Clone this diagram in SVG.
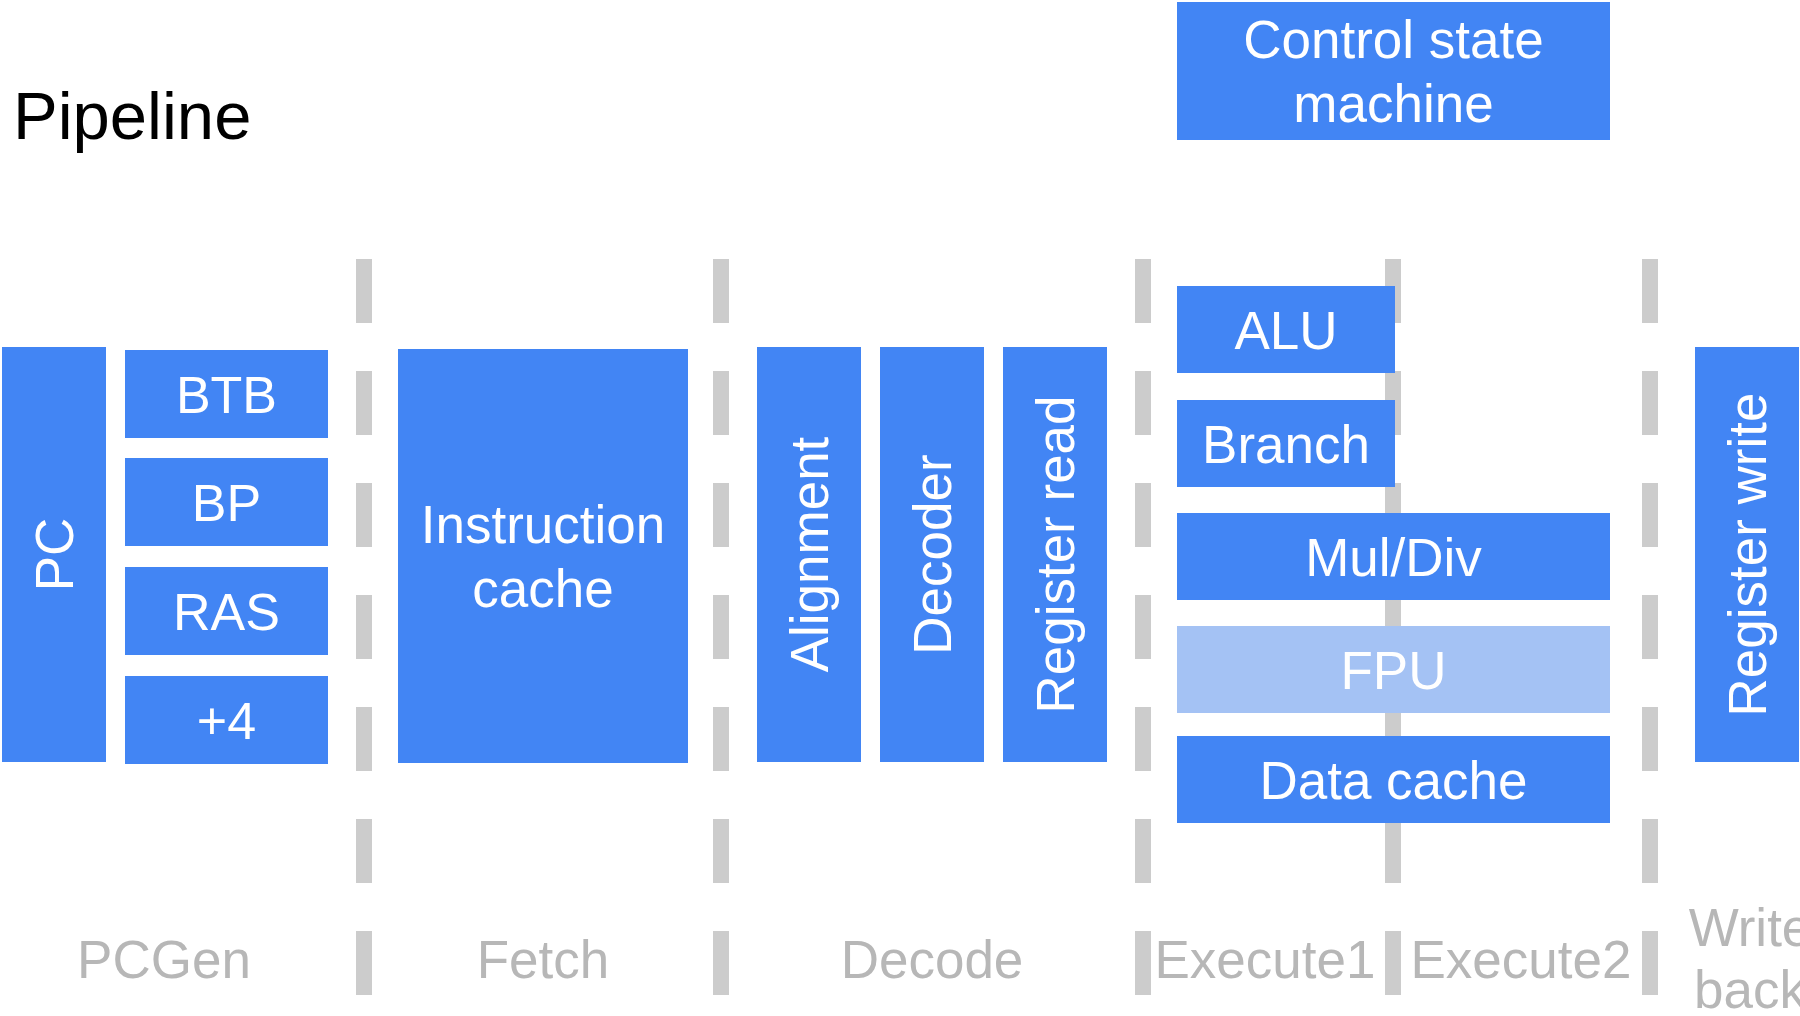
<svg xmlns="http://www.w3.org/2000/svg" width="1800" height="1016" viewBox="0 0 1800 1016">
  <style>
    text { font-family: "Liberation Sans", Arial, Helvetica, sans-serif; }
    .box { fill: #4285f4; }
    .box-light { fill: #a4c2f4; }
    .lbl { fill: #ffffff; font-size: 53px; text-anchor: middle; }
    .lbl-sm { fill: #ffffff; font-size: 52px; text-anchor: middle; }
    .stage { fill: #b7b7b7; font-size: 53px; text-anchor: middle; }
    .divider { stroke: #cccccc; stroke-width: 16; stroke-dasharray: 64 48; fill: none; }
  </style>

  <rect width="1800" height="1016" fill="#ffffff"/>

  <text x="13" y="139" font-size="67" fill="#000000">Pipeline</text>

  <!-- stage boundaries (drawn beneath the units) -->
  <g id="connectors">
    <line class="divider" x1="364" y1="259" x2="364" y2="995"/>
    <line class="divider" x1="721" y1="259" x2="721" y2="995"/>
    <line class="divider" x1="1143" y1="259" x2="1143" y2="995"/>
    <line class="divider" x1="1393" y1="259" x2="1393" y2="995"/>
    <line class="divider" x1="1650" y1="259" x2="1650" y2="995"/>
  </g>

  <!-- PCGen stage -->
  <g id="pc">
    <rect class="box" x="2" y="347" width="104" height="415"/>
    <text class="lbl" transform="translate(73,554.5) rotate(-90)" x="0" y="0">PC</text>
  </g>
  <g id="btb">
    <rect class="box" x="125" y="350" width="203" height="88"/>
    <text class="lbl-sm" x="226.5" y="412.5">BTB</text>
  </g>
  <g id="bp">
    <rect class="box" x="125" y="458" width="203" height="88"/>
    <text class="lbl-sm" x="226.5" y="520.5">BP</text>
  </g>
  <g id="ras">
    <rect class="box" x="125" y="567" width="203" height="88"/>
    <text class="lbl-sm" x="226.5" y="629.5">RAS</text>
  </g>
  <g id="plus4">
    <rect class="box" x="125" y="676" width="203" height="88"/>
    <text class="lbl-sm" x="226.5" y="738.5">+4</text>
  </g>

  <!-- Fetch stage -->
  <g id="icache">
    <rect class="box" x="398" y="349" width="290" height="414"/>
    <text class="lbl" x="543" y="543">Instruction</text>
    <text class="lbl" x="543" y="607">cache</text>
  </g>

  <!-- Decode stage -->
  <g id="alignment">
    <rect class="box" x="757" y="347" width="104" height="415"/>
    <text class="lbl" transform="translate(828,554.5) rotate(-90)" x="0" y="0">Alignment</text>
  </g>
  <g id="decoder">
    <rect class="box" x="880" y="347" width="104" height="415"/>
    <text class="lbl" transform="translate(951,554.5) rotate(-90)" x="0" y="0">Decoder</text>
  </g>
  <g id="regread">
    <rect class="box" x="1003" y="347" width="104" height="415"/>
    <text class="lbl" transform="translate(1074,554.5) rotate(-90)" x="0" y="0">Register read</text>
  </g>

  <!-- Execute stages -->
  <g id="control">
    <rect class="box" x="1177" y="2" width="433" height="138"/>
    <text class="lbl" x="1393.5" y="58">Control state</text>
    <text class="lbl" x="1393.5" y="122">machine</text>
  </g>
  <g id="alu">
    <rect class="box" x="1177" y="286" width="218" height="87"/>
    <text class="lbl" x="1286" y="348.5">ALU</text>
  </g>
  <g id="branch">
    <rect class="box" x="1177" y="400" width="218" height="87"/>
    <text class="lbl" x="1286" y="462.5">Branch</text>
  </g>
  <g id="muldiv">
    <rect class="box" x="1177" y="513" width="433" height="87"/>
    <text class="lbl" x="1393.5" y="575.5">Mul/Div</text>
  </g>
  <g id="fpu">
    <rect class="box-light" x="1177" y="626" width="433" height="87"/>
    <text class="lbl" x="1393.5" y="688.5">FPU</text>
  </g>
  <g id="dcache">
    <rect class="box" x="1177" y="736" width="433" height="87"/>
    <text class="lbl" x="1393.5" y="798.5">Data cache</text>
  </g>

  <!-- Writeback stage -->
  <g id="regwrite">
    <rect class="box" x="1695" y="347" width="104" height="415"/>
    <text class="lbl" transform="translate(1766,554.5) rotate(-90)" x="0" y="0">Register write</text>
  </g>

  <!-- stage names -->
  <g id="stage-labels">
    <text class="stage" x="164" y="978">PCGen</text>
    <text class="stage" x="543" y="978">Fetch</text>
    <text class="stage" x="932" y="978">Decode</text>
    <text class="stage" x="1265" y="978">Execute1</text>
    <text class="stage" x="1521" y="978">Execute2</text>
    <text class="stage" x="1750" y="946">Write</text>
    <text class="stage" x="1750" y="1008">back</text>
  </g>
</svg>
